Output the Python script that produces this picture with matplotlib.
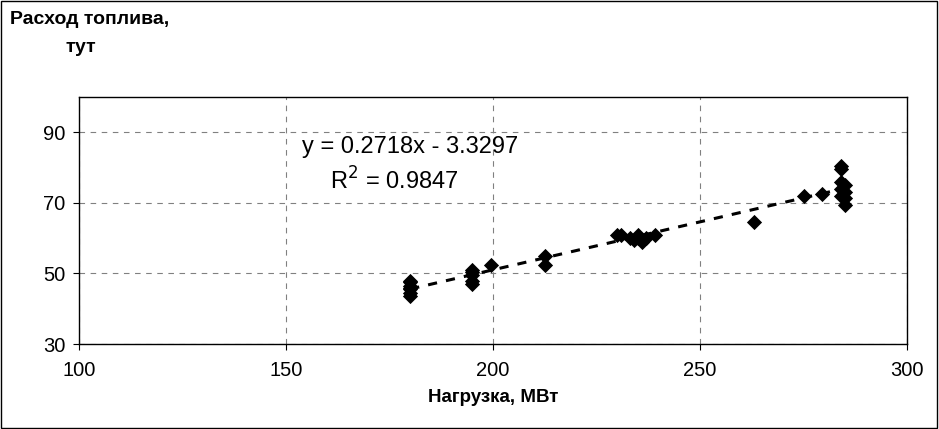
import matplotlib.pyplot as plt
import numpy as np

plt.rcParams['font.family'] = ['Liberation Sans', 'DejaVu Sans']

# load (MW) and fuel consumption (tce)
load = [180, 180, 180, 180, 180, 180, 180,
        195, 195, 195, 195, 195, 199.5,
        212.5, 212.5,
        230, 231, 233, 234, 235, 235, 236, 237, 239,
        263, 275, 279.5,
        284, 284, 284, 284, 284, 285, 285, 285, 285]
fuel = [43.5, 44.5, 45.5, 46.5, 47.5, 48.0, 46.0,
        47.0, 48.0, 49.5, 50.5, 51.0, 52.3,
        55.0, 52.3,
        61.0, 61.0, 60.0, 59.5, 61.0, 60.0, 59.0, 60.0, 61.0,
        64.5, 72.0, 72.5,
        80.5, 79.5, 76.0, 74.0, 72.0, 75.0, 73.0, 71.5, 69.5]

slope, intercept = 0.2718, -3.3297
x_ticks = [100, 150, 200, 250, 300]
y_ticks = [30, 50, 70, 90]

fig = plt.figure(figsize=(9.39, 4.29), dpi=100)
fig.patches.append(plt.Rectangle((0.001, 0.002), 0.997, 0.996, transform=fig.transFigure,
                                 fill=False, edgecolor='black', linewidth=1))
ax = fig.add_axes([0.0841, 0.198, 0.882, 0.576])

ax.scatter(load, fuel, marker='D', s=60, color='black', zorder=3, linewidths=0)
xt = np.array([min(load), max(load)])
ax.plot(xt, slope * xt + intercept, color='black', linestyle=(0, (3, 3)), linewidth=2.2, zorder=4)

ax.set_xlim(100, 300)
ax.set_ylim(30, 100)
ax.set_xticks(x_ticks)
ax.set_yticks(y_ticks)
ax.tick_params(labelsize=14.5, length=4, direction='out')
ax.tick_params(axis='x', pad=8)
ax.tick_params(axis='y', pad=6)
ax.grid(True, color='#808080', linestyle=(0, (5, 5)), linewidth=0.8)
ax.set_axisbelow(True)
for s in ax.spines.values():
    s.set_linewidth(1)

ax.set_xlabel('Нагрузка, МВт', fontsize=13.5, fontweight='bold', labelpad=7)

fig.text(10 / 939, 1 - 20 / 429, 'Расход топлива,', fontsize=14, fontweight='bold', va='center')
fig.text(66 / 939, 1 - 48 / 429, 'тут', fontsize=14, fontweight='bold', va='center')

fig.text(302 / 939, 1 - 147 / 429, 'y = 0.2718x - 3.3297', fontsize=17, va='center')
fig.text(330 / 939, 1 - 181 / 429, 'R$^2$ = 0.9847', fontsize=17, va='center')

fig.savefig('out.png', dpi=100)
